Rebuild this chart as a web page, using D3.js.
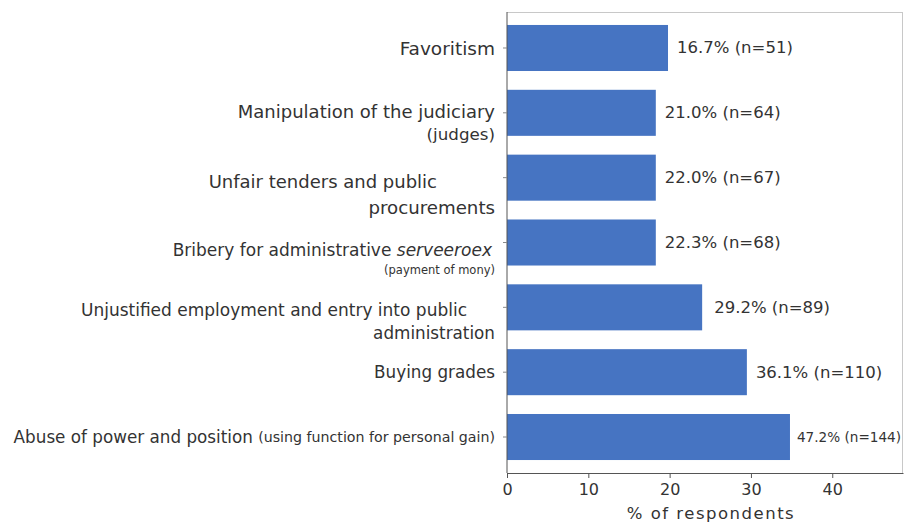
<!DOCTYPE html>
<html>
<head>
<meta charset="utf-8">
<script src="https://cdn.jsdelivr.net/npm/d3@7"></script>
<style>
  body { margin: 0; background: #fff; }
  svg text { font-family: "DejaVu Sans", "Noto Sans", sans-serif; fill: #333; }
</style>
</head>
<body>
<div id="viz"></div>
<script>
// category labels (main line, second line)
const categories = [
  'Favoritism',
  'Manipulation of the judiciary',
  'Unfair tenders and public',
  'Bribery for administrative',
  'Unjustified employment and entry into public',
  'Buying grades',
  'Abuse of power and position'
];
const subLabels = ['', '(judges)', 'procurements', '(payment of mony)', 'administration', '', '(using function for personal gain)'];
// bar lengths as drawn in the picture
const barValues = [19.8, 18.3, 18.3, 18.3, 24.0, 29.5, 34.8];
// value labels as printed next to the bars
const pctLabels = ['16.7%', '21.0%', '22.0%', '22.3%', '29.2%', '36.1%', '47.2%'];
const counts = [51, 64, 67, 68, 89, 110, 144];
const xTicks = [0, 10, 20, 30, 40];
const xTitle = '% of respondents';

const W = 906, H = 526;
const pLeft = 507, pRight = 903, pTop = 12, pBottom = 473;

const svg = d3.select('#viz').append('svg')
  .attr('width', W).attr('height', H);

const x = d3.scaleLinear().domain([0, 48.7]).range([pLeft, pRight]);
const y = d3.scaleBand().domain(categories).range([pTop, pBottom])
  .paddingInner(0.29).paddingOuter(0.2);

// frame (light top / right)
svg.append('line')
  .attr('x1', pLeft).attr('x2', pRight).attr('y1', pTop + 0.5).attr('y2', pTop + 0.5)
  .attr('stroke', '#c8c8c8');
svg.append('line')
  .attr('x1', pRight - 0.5).attr('x2', pRight - 0.5).attr('y1', pTop).attr('y2', pBottom)
  .attr('stroke', '#c8c8c8');

svg.selectAll('rect.bar')
  .data(categories)
  .join('rect')
  .attr('class', 'bar')
  .attr('x', x(0))
  .attr('y', d => y(d))
  .attr('width', (d, i) => x(barValues[i]) - x(0))
  .attr('height', y.bandwidth())
  .attr('fill', '#4674c2');

// value labels
svg.selectAll('text.val')
  .data(categories)
  .join('text')
  .attr('class', 'val')
  .attr('x', (d, i) => x(barValues[i]) + (i === 4 ? 12 : i === 6 ? 7 : 9))
  .attr('y', d => y(d) + y.bandwidth() / 2)
  .attr('dominant-baseline', 'central')
  .style('font-size', (d, i) => i === 6 ? '13.6px' : '16.5px')
  .text((d, i) => `${pctLabels[i]} (n=${counts[i]})`);

// x axis
const xAxis = svg.append('g')
  .attr('transform', `translate(0,${pBottom})`)
  .call(d3.axisBottom(x).tickValues(xTicks).tickSize(5).tickPadding(6).tickSizeOuter(0));
xAxis.select('.domain').attr('stroke', '#555');
xAxis.selectAll('.tick line').attr('stroke', '#555');
xAxis.selectAll('.tick text')
  .style('font-size', '16px')
  .attr('fill', '#333');

svg.append('text')
  .attr('x', 711)
  .attr('y', 519)
  .attr('text-anchor', 'middle')
  .style('font-size', '16.5px')
  .style('letter-spacing', '1.5px')
  .text(xTitle);

// y axis
const yAxis = svg.append('g')
  .attr('transform', `translate(${pLeft},0)`)
  .call(d3.axisLeft(y).tickSize(4).tickSizeOuter(0).tickFormat(''));
yAxis.select('.domain').attr('stroke', '#555').attr('d', `M0,${pTop}V${pBottom}`);
yAxis.selectAll('.tick line').attr('stroke', '#888');

// category label layout
const lineEnd = [495, 495, 437, 492, 467, 495, 495];
const mainSize = [18.5, 18, 18, 17, 17, 16.8, 16.8];
const mainDy = [0, -2, 3, 7, 3, 0, 0];
const subSize = [0, 16.7, 18.2, 11.5, 16.8, 0, 14.2];
const subDy = [0, 21, 30, 27, 26, 0, 0];

categories.forEach((c, i) => {
  const cy = y(c) + y.bandwidth() / 2;
  if (i === 6) {
    const t = svg.append('text')
      .attr('x', 495).attr('y', cy)
      .attr('text-anchor', 'end')
      .attr('dominant-baseline', 'central');
    t.append('tspan').style('font-size', mainSize[i] + 'px').text(c + ' ');
    t.append('tspan').style('font-size', subSize[i] + 'px').text(subLabels[i]);
    return;
  }
  const t = svg.append('text')
    .attr('x', lineEnd[i]).attr('y', cy + mainDy[i])
    .attr('text-anchor', 'end')
    .attr('dominant-baseline', 'central')
    .style('font-size', mainSize[i] + 'px');
  t.append('tspan').text(c);
  if (i === 3) {
    t.append('tspan').style('font-style', 'italic').text(' serveeroex');
  }
  if (subLabels[i]) {
    svg.append('text')
      .attr('x', 495)
      .attr('y', cy + subDy[i])
      .attr('text-anchor', 'end')
      .attr('dominant-baseline', 'central')
      .style('font-size', subSize[i] + 'px')
      .text(subLabels[i]);
  }
});
</script>
</body>
</html>
